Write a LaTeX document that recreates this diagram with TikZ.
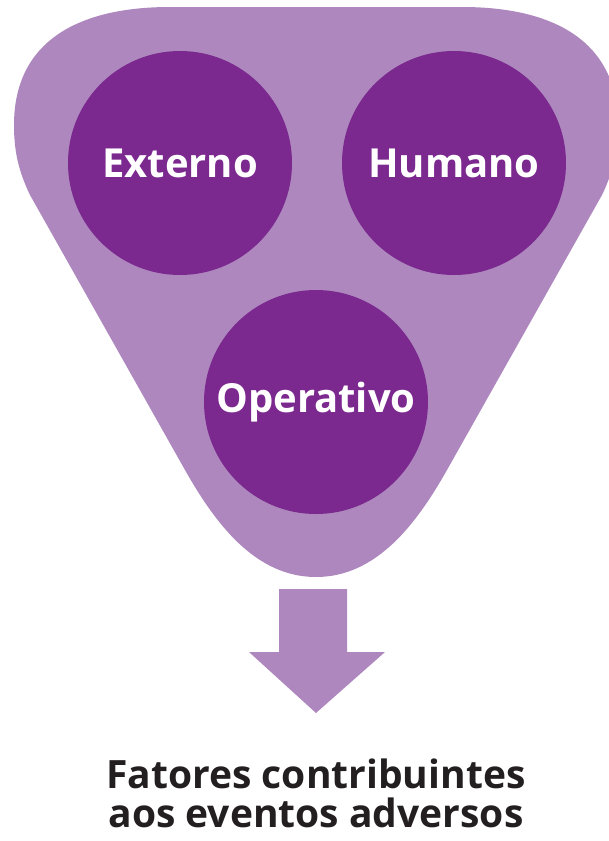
\documentclass[tikz,border=0pt]{standalone}
\usepackage{fontspec}
\setmainfont{Open Sans}
\definecolor{lila}{HTML}{AD87BD}
\definecolor{roxo}{HTML}{7B288F}
\definecolor{tinta}{HTML}{231F20}
\tikzset{
  fator/.style={circle, fill=roxo, minimum size=224pt, inner sep=0pt, text=white, font=\fontsize{40}{44}\selectfont\bfseries},
  funil/.style={fill=lila, draw=none}
}
\begin{document}
\begin{tikzpicture}[x=1pt, y=-1pt]
	\useasboundingbox (0,0) rectangle (609,841);

	% funil
	\fill[funil] (316,577) .. controls (255,577) and (215,523) .. (185,470)
		-- (30,195) .. controls (18,170) and (14,150) .. (14,125)
		.. controls (14,40) and (80,7) .. (170,7) -- (462,7)
		.. controls (552,7) and (618,40) .. (618,125)
		.. controls (618,150) and (614,170) .. (602,195)
		-- (447,470) .. controls (417,523) and (377,577) .. (316,577);

	\node[fator] (externo) at (180,163) {Externo};
	\node[fator] (humano) at (454,163) {Humano};
	\node[fator] (operativo) at (316,402) {Operativo};

	% seta
	\fill[lila] (279,589) -- (347,589) -- (347,652) -- (385,652) -- (316,713) -- (249,652) -- (279,652) -- cycle;

	\node[anchor=base, align=center, text=tinta, font=\fontsize{39}{39}\selectfont\bfseries] (fatores) at (316,827) {Fatores contribuintes\\aos eventos adversos};

\end{tikzpicture}
\end{document}
